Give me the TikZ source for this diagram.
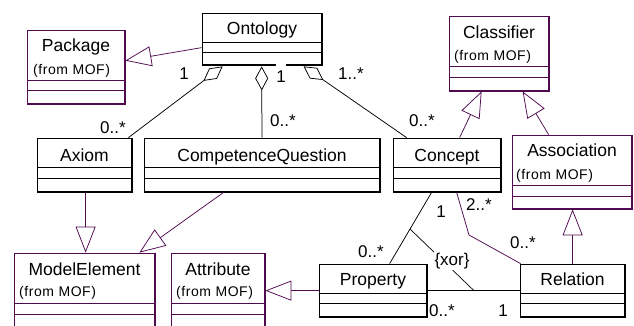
\documentclass[tikz,border=0pt]{standalone}
\usepackage{fontspec}
\setmainfont{Liberation Sans}
\newfontfamily\moffont[LetterSpace=4]{Liberation Sans}
\usetikzlibrary{arrows.meta,fit,calc}
\definecolor{umlpurple}{RGB}{80,10,80}

\tikzset{
  classbox/.style={inner sep=0pt, line width=0.75pt},
  cname/.style={anchor=base, inner sep=0pt, font=\fontsize{17.5}{20}\selectfont},
  fromtxt/.style={anchor=base west, inner sep=0pt, font=\moffont\fontsize{14}{16}\selectfont},
  mult/.style={anchor=base, inner sep=0pt, font=\fontsize{17}{20}\selectfont},
  gen/.style={draw=umlpurple, line width=0.75pt,
    -{Triangle[length=26pt, width=20pt, fill=white]}},
  agg/.style={draw=black, line width=0.75pt,
    {Diamond[length=24pt, width=13pt, fill=white]}-},
  assoc/.style={line width=0.75pt},
}

% a class symbol: name, colour, x1, y1, x2, y2, two compartment lines
\newcommand\umlclass[8]{%
  \node[classbox, draw=#2, fit={(#3,#4)(#5,#6)}] (#1) {};
  \draw[#2, line width=0.75pt] (#3,#7) -- (#5,#7) (#3,#8) -- (#5,#8);
  \draw[#2, line width=1.25pt] (#5,#4) -- (#5,#6);
  \draw[#2, line width=1.9pt] (#3,#6) -- (#5,#6);
}

\begin{document}
\begin{tikzpicture}[x=1pt, y=-1pt]
\clip (0,0) rectangle (634,326);
\fill[white] (0,0) rectangle (634,326);

% classes
\umlclass{onto}{black}{202}{13}{322}{65}{42}{52}
\umlclass{pkg}{umlpurple}{27}{30}{125}{104}{80}{90}
\umlclass{cls}{umlpurple}{449}{16}{549}{91}{66}{77}
\umlclass{axiom}{black}{37}{138}{132}{192}{167}{178}
\umlclass{cq}{black}{144}{138}{380}{192}{167}{178}
\umlclass{concept}{black}{393}{138}{501}{192}{167}{178}
\umlclass{asc}{umlpurple}{512}{135}{632}{209}{185}{196}
\umlclass{me}{umlpurple}{14}{253}{155}{345}{303}{314}
\umlclass{attr}{umlpurple}{171}{253}{265}{345}{303}{314}
\umlclass{prop}{black}{319}{264}{427}{317}{293}{303}
\umlclass{rel}{black}{520}{264}{625}{317}{293}{303}

% class names
\node[cname] at (262,35) {Ontology};
\node[cname] at (76,52) {Package};
\node[fromtxt] at (33,75) {(from MOF)};
\node[cname] at (499,39) {Classifier};
\node[fromtxt] at (454,61) {(from MOF)};
\node[cname] at (84.5,161) {Axiom};
\node[cname] at (262,161) {CompetenceQuestion};
\node[cname] at (447,161) {Concept};
\node[cname] at (572,157) {Association};
\node[fromtxt] at (516,179) {(from MOF)};
\node[cname] at (84.5,275) {ModelElement};
\node[fromtxt] at (19,296) {(from MOF)};
\node[cname] at (218,275) {Attribute};
\node[fromtxt] at (176,296) {(from MOF)};
\node[cname] at (373,285) {Property};
\node[cname] at (572.5,285) {Relation};

% generalisations
\draw[gen] ($(onto.north west)+(0,35)$) -- ($(pkg.north east)+(0,31)$);
\draw[gen] ($(concept.north west)+(67,0)$) -- ($(cls.south west)+(33,0)$);
\draw[gen] ($(asc.north west)+(37,0)$) -- ($(cls.south west)+(74,0)$);
\draw[gen] ($(axiom.south west)+(49,0)$) -- ($(me.north west)+(72,0)$);
\draw[gen] ($(cq.south west)+(80,0)$) -- ($(me.north east)+(-16,0)$);
\draw[gen] ($(prop.north west)+(0,27)$) -- ($(attr.north east)+(0,38)$);
\draw[gen] ($(rel.north west)+(53,0)$) -- ($(asc.south west)+(61,0)$);

% aggregations of the ontology
\draw[agg] ($(onto.south west)+(21,1)$) -- ($(axiom.north east)+(-4,0)$);
\draw[agg] ($(onto.south west)+(60,1)$) -- (cq.north);
\draw[agg] ($(onto.south west)+(102,1)$) -- ($(concept.north west)+(14,0)$);
\fill[white] (276,62) rectangle (286,68);

% associations
\coordinate (cpA) at ($(concept.south west)+(39,0)$);
\coordinate (cpB) at ($(prop.north west)+(71,0)$);
\draw[assoc] (cpA) -- (cpB);
\coordinate (prA) at ($(prop.north east)+(0,27)$);
\coordinate (prB) at ($(rel.north west)+(0,27)$);
\draw[assoc] (prA) -- (prB);
\coordinate (bend) at (469,235);
\draw[assoc, umlpurple] ($(concept.south west)+(64,0)$) -- (bend) -- ($(rel.north west)+(1,0)$);

% xor constraint
\coordinate (xa) at ($(cpA)!0.514!(cpB)$);
\coordinate (xb) at ($(prA)!0.505!(prB)$);
\draw[line width=0.7pt] (xa) -- (xb);
\node[fill=white, inner sep=1pt, font=\fontsize{17}{20}\selectfont] at (452,261) {\{xor\}};

% multiplicities
\node[mult] at (184,80) {1};
\node[mult] at (113,133) {0..*};
\node[mult] at (281,83) {1};
\node[mult] at (283,127) {0..*};
\node[mult] at (351,80) {1..*};
\node[mult] at (422,127) {0..*};
\node[mult] at (441,217) {1};
\node[mult] at (371,257) {0..*};
\node[mult] at (479,210) {2..*};
\node[mult] at (523,248) {0..*};
\node[mult] at (442,316) {0..*};
\node[mult] at (503,316) {1};
\end{tikzpicture}
\end{document}
